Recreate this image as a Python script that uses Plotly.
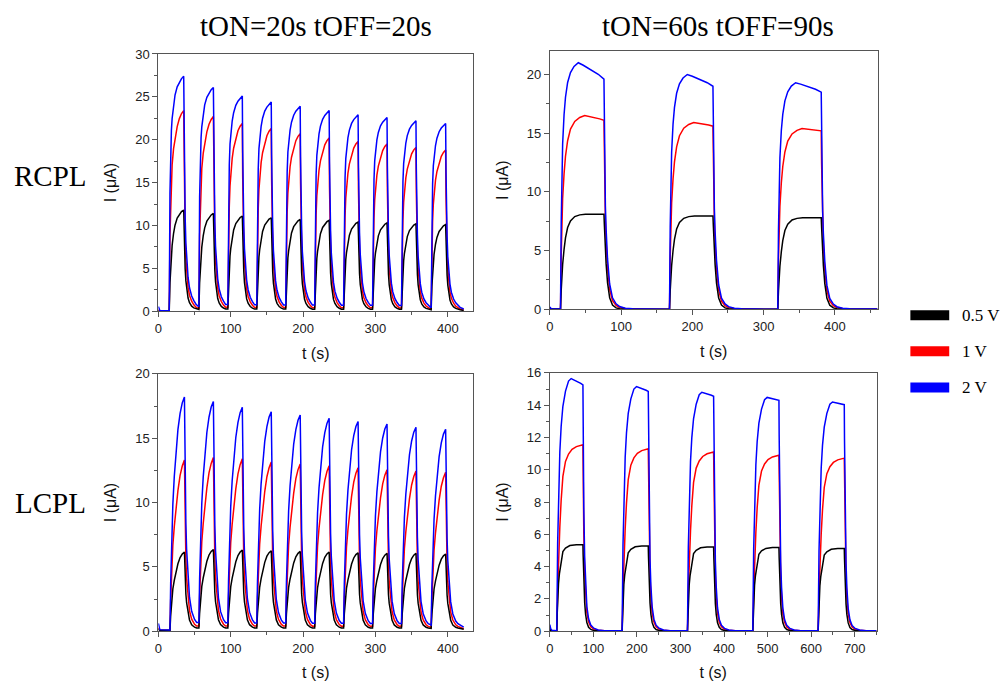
import plotly.graph_objects as go

W, H = 1005, 692

# ---------------- pulse timing (s) ----------------
TL_on = [15, 56, 96, 136, 176, 216, 256, 296, 336, 377]   # RCPL 20/20
TL_dur = 20
BL_on = [16, 56, 96, 136, 176, 216, 256, 296, 336, 377]   # LCPL 20/20
BL_dur = 20
TR_on = [15, 168, 320]                                    # RCPL 60/90
TR_dur = 61
BR_on = [16, 166, 316, 466, 616]                          # LCPL 60/90
BR_dur = 60

# ---------------- per-pulse levels (uA) ----------------
# RCPL 20/20 (value at end of ON)
TL_black = [11.8, 11.4, 11.1, 10.9, 10.7, 10.6, 10.4, 10.3, 10.2, 10.1]
TL_red = [23.4, 22.7, 21.9, 21.3, 20.7, 20.2, 19.8, 19.5, 19.1, 18.8]
TL_blue = [27.4, 26.1, 25.1, 24.4, 23.9, 23.4, 22.9, 22.6, 22.2, 21.9]
# LCPL 20/20
BL_black = [6.15, 6.35, 6.3, 6.25, 6.2, 6.15, 6.1, 6.05, 6.05, 6.0]
BL_red = [13.3, 13.5, 13.4, 13.15, 13.0, 12.85, 12.7, 12.55, 12.45, 12.35]
BL_blue = [18.2, 17.85, 17.4, 17.05, 16.8, 16.55, 16.3, 16.1, 15.85, 15.7]
# RCPL 60/90 (peak, end of ON)
TR_black_peak = [8.1, 7.95, 7.8]
TR_black_end = [8.1, 7.95, 7.8]
TR_red_peak = [16.5, 15.9, 15.4]
TR_red_end = [16.1, 15.6, 15.2]
TR_blue_peak = [21.0, 20.0, 19.3]
TR_blue_end = [19.6, 19.0, 18.5]
# LCPL 60/90
BR_black_peak = [5.36, 5.28, 5.22, 5.18, 5.12]
BR_black_end = [5.36, 5.28, 5.22, 5.18, 5.12]
BR_red_peak = [11.55, 11.3, 11.1, 10.9, 10.72]
BR_red_end = [11.55, 11.3, 11.1, 10.9, 10.72]
BR_blue_peak = [15.65, 15.15, 14.8, 14.48, 14.2]
BR_blue_end = [15.25, 14.85, 14.55, 14.3, 14.03]

# ---------------- waveform shapes ----------------
# rise: offset after ON (s) and fraction of the way to the peak
TL_rise_off = [0, 1, 2, 3, 4, 6, 8, 11, 14, 17, 20]
TL_rise_blue = [0, 0.5, 0.67, 0.77, 0.82, 0.88, 0.92, 0.955, 0.975, 0.99, 1.0]
TL_rise_red = [0, 0.38, 0.55, 0.66, 0.73, 0.81, 0.865, 0.92, 0.96, 0.985, 1.0]
TL_rise_black = [0, 0.28, 0.45, 0.57, 0.65, 0.77, 0.85, 0.92, 0.96, 0.985, 1.0]
TL_decay_off = [0, 0.5, 1, 2, 3, 4, 6, 8, 11, 14, 17, 20, 25]
TL_decay_blue = [1, 0.75, 0.58, 0.4, 0.29, 0.22, 0.145, 0.1, 0.065, 0.045, 0.03, 0.021, 0.012]
TL_decay_red = [1, 0.72, 0.55, 0.37, 0.26, 0.19, 0.12, 0.08, 0.05, 0.032, 0.02, 0.014, 0.008]
TL_decay_black = [1, 0.8, 0.62, 0.42, 0.3, 0.22, 0.13, 0.085, 0.05, 0.033, 0.023, 0.017, 0.01]

BL_rise_off = [0, 1, 2, 3, 4, 6, 8, 11, 14, 17, 20]
BL_rise_blue = [0, 0.2, 0.36, 0.46, 0.54, 0.66, 0.75, 0.86, 0.93, 0.975, 1.0]
BL_rise_red = [0, 0.18, 0.33, 0.43, 0.5, 0.61, 0.7, 0.82, 0.91, 0.965, 1.0]
BL_rise_black = [0, 0.19, 0.34, 0.45, 0.53, 0.64, 0.73, 0.85, 0.93, 0.975, 1.0]
BL_decay_off = [0, 0.5, 1, 2, 3, 5, 7, 10, 14, 17, 20, 25]
BL_decay_blue = [1, 0.8, 0.64, 0.46, 0.35, 0.22, 0.145, 0.085, 0.05, 0.037, 0.03, 0.02]
BL_decay_red = [1, 0.78, 0.6, 0.42, 0.31, 0.19, 0.12, 0.07, 0.04, 0.03, 0.023, 0.015]
BL_decay_black = [1, 0.82, 0.66, 0.47, 0.36, 0.22, 0.14, 0.08, 0.05, 0.04, 0.035, 0.025]

TR_rise_off_blue = [0, 1, 2, 3, 5, 7, 10, 14, 19, 25]
TR_rise_blue = [0, 0.35, 0.55, 0.67, 0.79, 0.86, 0.92, 0.96, 0.985, 1.0]
TR_sag_off_blue = [25, 32, 42, 53, 61]
TR_sag_blue = [0, 0.15, 0.4, 0.7, 1.0]
TR_rise_off_red = [0, 1, 2, 3, 5, 7, 10, 14, 20, 27, 34]
TR_rise_red = [0, 0.28, 0.45, 0.57, 0.7, 0.79, 0.87, 0.93, 0.97, 0.99, 1.0]
TR_sag_off_red = [34, 45, 55, 61]
TR_sag_red = [0, 0.3, 0.7, 1.0]
TR_rise_off_black = [0, 1, 2, 3, 5, 7, 10, 14, 20, 27, 35]
TR_rise_black = [0, 0.2, 0.35, 0.47, 0.63, 0.75, 0.86, 0.93, 0.975, 0.993, 1.0]
TR_sag_off_black = [35, 61]
TR_sag_black = [0, 1.0]
TR_decay_off = [0, 0.5, 1, 2, 3, 5, 8, 12, 17, 22, 30, 40, 60, 90]
TR_decay_blue = [1, 0.8, 0.62, 0.45, 0.35, 0.22, 0.11, 0.05, 0.024, 0.012, 0.005, 0.002, 0.001, 0]
TR_decay_red = [1, 0.82, 0.66, 0.47, 0.36, 0.22, 0.105, 0.045, 0.02, 0.01, 0.004, 0.002, 0.001, 0]
TR_decay_black = [1, 0.9, 0.8, 0.62, 0.48, 0.28, 0.12, 0.045, 0.015, 0.007, 0.003, 0.001, 0.0005, 0]

BR_rise_off_blue = [0, 2, 4, 7, 10, 14, 20, 27, 33]
BR_rise_blue = [0, 0.35, 0.55, 0.71, 0.81, 0.89, 0.95, 0.99, 1.0]
BR_sag_off_blue = [33, 45, 55, 60]
BR_sag_blue = [0, 0.35, 0.75, 1.0]
BR_rise_off_red = [0, 2, 4, 7, 10, 14, 20, 27, 35, 45, 60]
BR_rise_red = [0, 0.22, 0.39, 0.56, 0.7, 0.83, 0.91, 0.95, 0.975, 0.99, 1.0]
BR_rise_off_black = [0, 1, 2.3, 4, 6, 9, 14, 20, 30, 45, 60]
BR_rise_black = [0, 0.2, 0.39, 0.55, 0.66, 0.78, 0.92, 0.96, 0.99, 1.0, 1.0]
BR_decay_off = [0, 0.5, 1, 2, 4, 6, 9, 13, 18, 25, 35, 50, 90]
BR_decay_blue = [1, 0.85, 0.7, 0.5, 0.3, 0.19, 0.1, 0.05, 0.025, 0.012, 0.005, 0.002, 0]
BR_decay_red = [1, 0.85, 0.72, 0.52, 0.31, 0.19, 0.1, 0.05, 0.024, 0.011, 0.005, 0.002, 0]
BR_decay_black = [1, 0.88, 0.76, 0.56, 0.33, 0.2, 0.1, 0.045, 0.02, 0.009, 0.004, 0.001, 0]

# dark current before the first pulse
TL_pre_t = [0, 1, 2, 14]
TL_pre_blue = [0.55, 0.15, 0.08, 0.05]
TL_pre_red = [0.15, 0.08, 0.05, 0.05]
TL_pre_black = [0.1, 0.05, 0.03, 0.03]
BL_pre_t = [0, 1, 2, 15]
BL_pre_blue = [0.6, 0.2, 0.12, 0.1]
BL_pre_red = [0.25, 0.15, 0.1, 0.08]
BL_pre_black = [0.15, 0.1, 0.08, 0.06]
TR_pre_t = [0, 2, 14]
TR_pre_blue = [0.2, 0.05, 0.03]
TR_pre_red = [0.1, 0.03, 0.02]
TR_pre_black = [0.05, 0.02, 0.02]
BR_pre_t = [0, 2, 5, 15]
BR_pre_blue = [0.4, 0.15, 0.05, 0.03]
BR_pre_red = [0.2, 0.08, 0.03, 0.02]
BR_pre_black = [0.15, 0.05, 0.02, 0.02]

COLORS = {"black": "#000000", "red": "#ff0000", "blue": "#0000ff"}


def build(pre_t, pre_y, on, dur, peak, end, r_off, r_frac, s_off, s_frac,
          d_off, d_frac, t_end, extend=False):
    t = list(pre_t)
    y = list(pre_y)
    for k, t0 in enumerate(on):
        start = y[-1]
        for o, f in zip(r_off, r_frac):
            t.append(t0 + o)
            y.append(start + (peak[k] - start) * f)
        for o, s in zip(s_off[1:], s_frac[1:]):
            t.append(t0 + o)
            y.append(peak[k] + (end[k] - peak[k]) * s)
        t_off = t0 + dur
        limit = on[k + 1] if k + 1 < len(on) else t_end
        for o, d in zip(d_off[1:], d_frac[1:]):
            if t_off + o >= limit:
                break
            t.append(t_off + o)
            y.append(end[k] * d)
    if extend:
        t.append(t_end)
        y.append(y[-1])
    return t, y


panels = []
# top-left
tl = {}
for c, lev, rf, df, pre in [("black", TL_black, TL_rise_black, TL_decay_black, TL_pre_black),
                            ("red", TL_red, TL_rise_red, TL_decay_red, TL_pre_red),
                            ("blue", TL_blue, TL_rise_blue, TL_decay_blue, TL_pre_blue)]:
    tl[c] = build(TL_pre_t, pre, TL_on, TL_dur, lev, lev, TL_rise_off, rf,
                  [TL_dur], [0], TL_decay_off, df, 423)
panels.append(("x", "y", tl))
# top-right
tr = {}
for c, pk, en, ro, rf, so, sf, df, pre in [
        ("black", TR_black_peak, TR_black_end, TR_rise_off_black, TR_rise_black,
         TR_sag_off_black, TR_sag_black, TR_decay_black, TR_pre_black),
        ("red", TR_red_peak, TR_red_end, TR_rise_off_red, TR_rise_red,
         TR_sag_off_red, TR_sag_red, TR_decay_red, TR_pre_red),
        ("blue", TR_blue_peak, TR_blue_end, TR_rise_off_blue, TR_rise_blue,
         TR_sag_off_blue, TR_sag_blue, TR_decay_blue, TR_pre_blue)]:
    tr[c] = build(TR_pre_t, pre, TR_on, TR_dur, pk, en, ro, rf, so, sf,
                  TR_decay_off, df, 460, extend=True)
panels.append(("x2", "y2", tr))
# bottom-left
bl = {}
for c, lev, rf, df, pre in [("black", BL_black, BL_rise_black, BL_decay_black, BL_pre_black),
                            ("red", BL_red, BL_rise_red, BL_decay_red, BL_pre_red),
                            ("blue", BL_blue, BL_rise_blue, BL_decay_blue, BL_pre_blue)]:
    bl[c] = build(BL_pre_t, pre, BL_on, BL_dur, lev, lev, BL_rise_off, rf,
                  [BL_dur], [0], BL_decay_off, df, 425)
panels.append(("x3", "y3", bl))
# bottom-right
br = {}
for c, pk, en, ro, rf, so, sf, df, pre in [
        ("black", BR_black_peak, BR_black_end, BR_rise_off_black, BR_rise_black,
         [BR_dur], [0], BR_decay_black, BR_pre_black),
        ("red", BR_red_peak, BR_red_end, BR_rise_off_red, BR_rise_red,
         [BR_dur], [0], BR_decay_red, BR_pre_red),
        ("blue", BR_blue_peak, BR_blue_end, BR_rise_off_blue, BR_rise_blue,
         BR_sag_off_blue, BR_sag_blue, BR_decay_blue, BR_pre_blue)]:
    br[c] = build(BR_pre_t, pre, BR_on, BR_dur, pk, en, ro, rf, so, sf,
                  BR_decay_off, df, 750, extend=True)
panels.append(("x4", "y4", br))

fig = go.Figure()
for xa, ya, d in panels:
    for c in ["red", "black", "blue"]:
        t, y = d[c]
        fig.add_trace(go.Scatter(x=t, y=y, mode="lines", xaxis=xa, yaxis=ya,
                                 line=dict(color=COLORS[c], width=1.5),
                                 showlegend=False, hoverinfo="skip"))

AX_COL = "#555555"
TICKFONT = dict(family="Liberation Sans, Arial, sans-serif", size=13, color="#222222")
TITLEFONT = dict(family="Liberation Sans, Arial, sans-serif", size=16, color="#111111")


def xax(dom, rng, dtick, minor, anchor):
    return dict(domain=[dom[0] / W, dom[1] / W], range=rng, anchor=anchor,
                showline=True, linecolor=AX_COL, linewidth=1, mirror=True,
                ticks="outside", ticklen=5, tickwidth=1, tickcolor=AX_COL,
                dtick=dtick, tick0=0, showgrid=False, zeroline=False,
                minor=dict(dtick=minor, tick0=0, ticks="outside", ticklen=3,
                           tickcolor=AX_COL, showgrid=False),
                tickfont=TICKFONT,
                title=dict(text="t (s)", font=TITLEFONT, standoff=12))


def yax(dom, rng, dtick, minor, anchor):
    return dict(domain=[1 - dom[1] / H, 1 - dom[0] / H], range=rng, anchor=anchor,
                showline=True, linecolor=AX_COL, linewidth=1, mirror=True,
                ticks="outside", ticklen=5, tickwidth=1, tickcolor=AX_COL,
                dtick=dtick, tick0=0, showgrid=False, zeroline=False,
                minor=dict(dtick=minor, tick0=0, ticks="outside", ticklen=3,
                           tickcolor=AX_COL, showgrid=False),
                tickfont=TICKFONT,
                title=dict(text="I (\u03bcA)", font=TITLEFONT, standoff=14))


fig.update_layout(
    width=W, height=H, margin=dict(l=0, r=0, t=0, b=0),
    paper_bgcolor="white", plot_bgcolor="white", showlegend=False,
    xaxis=xax((155, 471), [0, 435], 100, 50, "y"),
    yaxis=yax((48, 311), [0, 30], 5, 2.5, "x"),
    xaxis2=xax((548, 877), [0, 460], 100, 50, "y2"),
    yaxis2=yax((45, 309), [0, 22], 5, 2.5, "x2"),
    xaxis3=xax((155, 471), [0, 435], 100, 50, "y3"),
    yaxis3=yax((375, 638), [0, 20], 5, 2.5, "x3"),
    xaxis4=xax((548, 876), [0, 750], 100, 50, "y4"),
    yaxis4=yax((374, 638), [0, 16], 2, 1, "x4"),
)

SERIF = "Liberation Serif, Times New Roman, serif"
annots = [
    dict(text="tON=20s tOFF=20s", x=313 / W, y=1 - 19 / H, size=29),
    dict(text="tON=60s tOFF=90s", x=717 / W, y=1 - 19 / H, size=29),
    dict(text="RCPL", x=47 / W, y=1 - 173 / H, size=29),
    dict(text="LCPL", x=47 / W, y=1 - 507 / H, size=29),
]
for a in annots:
    fig.add_annotation(text=a["text"], x=a["x"], y=a["y"], xref="paper", yref="paper",
                       showarrow=False, xanchor="center", yanchor="middle",
                       font=dict(family=SERIF, size=a["size"], color="black"))

# legend
LEG_LABELS = ["0.5 V", "1 V", "2 V"]
LEG_COLORS = [COLORS["black"], COLORS["red"], COLORS["blue"]]
LEG_Y = [315, 352, 389]
for lab, col, yy in zip(LEG_LABELS, LEG_COLORS, LEG_Y):
    fig.add_shape(type="line", xref="paper", yref="paper",
                  x0=910 / W, x1=949 / W, y0=1 - yy / H, y1=1 - yy / H,
                  line=dict(color=col, width=10))
    fig.add_annotation(text=lab, x=960 / W, y=1 - yy / H, xref="paper", yref="paper",
                       showarrow=False, xanchor="left", yanchor="middle",
                       font=dict(family=SERIF, size=17, color="black"))

fig.write_html("out.html")
